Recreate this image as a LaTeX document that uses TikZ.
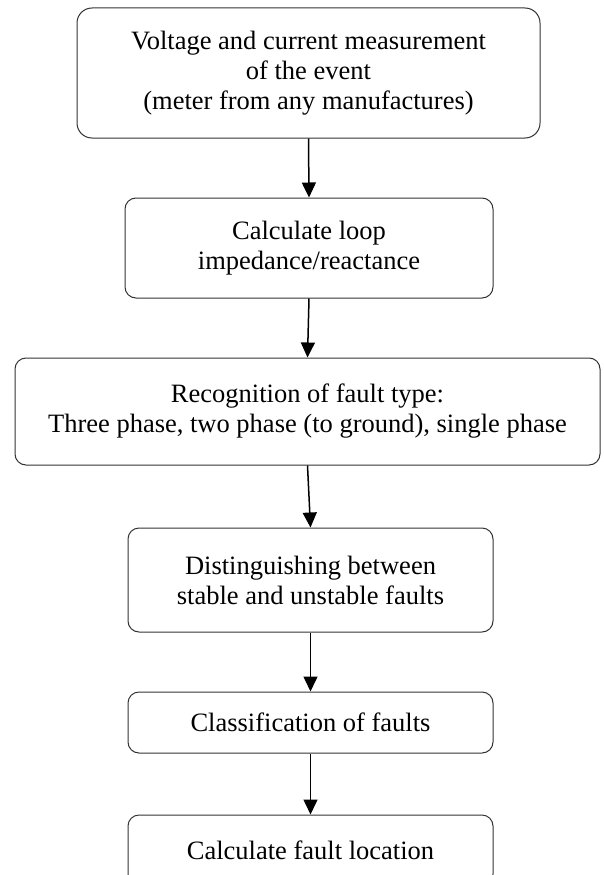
\documentclass[tikz,border=0pt]{standalone}
\usepackage{fontspec}
\setmainfont{Liberation Serif}
\usetikzlibrary{arrows.meta}
\tikzset{
  flowbox/.style={draw=black!80, line width=1pt, rounded corners=11pt, align=center,
    inner sep=0pt, font=\fontsize{26.5}{30}\selectfont},
  flowarrow/.style={line width=1.5pt, -{Triangle[length=15pt,width=14pt]}}
}
\begin{document}
\begin{tikzpicture}[x=1pt,y=-1pt]
\useasboundingbox (0,0) rectangle (603,875);
\clip (0,0) rectangle (603,875);
\fill[white] (0,0) rectangle (603,875);
\node[flowbox, rounded corners=15pt, minimum width=463pt, minimum height=130pt] (b1) at (308.5,73)
  {Voltage and current measurement\\of the event\\(meter from any manufactures)};
\node[flowbox, minimum width=368pt, minimum height=100pt] (b2) at (309,248)
  {Calculate loop\\impedance/reactance};
\node[flowbox, minimum width=585pt, minimum height=107pt] (b3) at (307.5,411.5)
  {Recognition of fault type:\\Three phase, two phase (to ground), single phase};
\node[flowbox, minimum width=365pt, minimum height=104pt] (b4) at (310.5,580)
  {Distinguishing between\\stable and unstable faults};
\node[flowbox, minimum width=365pt, minimum height=61pt] (b5) at (310.5,722.5)
  {Classification of faults};
\node[flowbox, minimum width=365pt, minimum height=70pt] (b6) at (310.5,850)
  {Calculate fault location};
\draw[flowarrow] (b1.south) -- (b2.north);
\draw[flowarrow] (b2.south) -- (b3.north);
\draw[flowarrow] (b3.south) -- (b4.north);
\draw[flowarrow] (b4.south) -- (b5.north);
\draw[flowarrow] (b5.south) -- (b6.north);
\end{tikzpicture}
\end{document}
